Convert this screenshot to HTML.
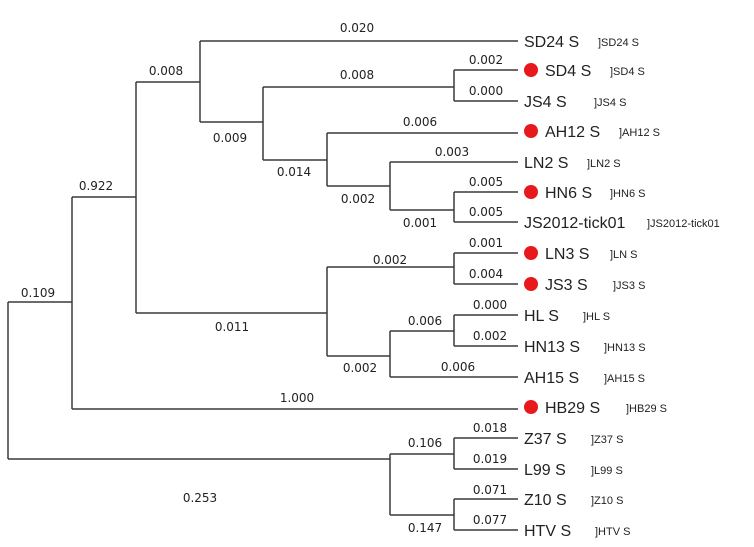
<!DOCTYPE html>
<html><head><meta charset="utf-8"><style>
html,body{margin:0;padding:0;background:#fff;}
svg{display:block;}
.b{font-family:"DejaVu Sans","Liberation Sans",sans-serif;font-size:12px;fill:#222;text-anchor:middle;}
.l{font-family:"Liberation Sans",sans-serif;font-size:16px;fill:#222;}
.s{font-family:"Liberation Sans",sans-serif;font-size:11px;fill:#222;}
</style></head><body>
<svg width="754" height="547" viewBox="0 0 754 547" xmlns="http://www.w3.org/2000/svg">
<g stroke="#3a3a3a" stroke-width="1.5" fill="none">
<path d="M8,302V459M8,302H72M8,459H390"/>
<path d="M72,197V409M72,197H136M72,409H518"/>
<path d="M136,82V313M136,82H200M136,313H327"/>
<path d="M200,41V122M200,41H518M200,122H263"/>
<path d="M263,87V160M263,87H454M263,160H327"/>
<path d="M454,70V101M454,70H518M454,101H518"/>
<path d="M327,133V186M327,133H518M327,186H390"/>
<path d="M390,162V210M390,162H518M390,210H454"/>
<path d="M454,192V222M454,192H518M454,222H518"/>
<path d="M327,267V356M327,267H454M327,356H390"/>
<path d="M454,253V284M454,253H518M454,284H518"/>
<path d="M390,331V377M390,331H454M390,377H518"/>
<path d="M454,315V346M454,315H518M454,346H518"/>
<path d="M390,454V515M390,454H454M390,515H454"/>
<path d="M454,438V469M454,438H518M454,469H518"/>
<path d="M454,499V530M454,499H518M454,530H518"/>
</g>
<g fill="#e8191c">
<circle cx="531" cy="70" r="7"/><circle cx="531" cy="131" r="7"/><circle cx="531" cy="192" r="7"/>
<circle cx="531" cy="253" r="7"/><circle cx="531" cy="284" r="7"/><circle cx="531" cy="407" r="7"/>
</g>
<g class="b">
<text x="357" y="32">0.020</text><text x="166" y="75">0.008</text><text x="230" y="142">0.009</text>
<text x="357" y="79">0.008</text><text x="294" y="176">0.014</text><text x="486" y="64">0.002</text>
<text x="486" y="95">0.000</text><text x="420" y="126">0.006</text><text x="452" y="156">0.003</text>
<text x="358" y="203">0.002</text><text x="486" y="186">0.005</text><text x="420" y="227">0.001</text>
<text x="486" y="216">0.005</text><text x="486" y="247">0.001</text><text x="390" y="264">0.002</text>
<text x="486" y="278">0.004</text><text x="96" y="190">0.922</text><text x="38" y="297">0.109</text>
<text x="232" y="331">0.011</text><text x="490" y="309">0.000</text><text x="425" y="325">0.006</text>
<text x="490" y="340">0.002</text><text x="360" y="372">0.002</text><text x="458" y="371">0.006</text>
<text x="297" y="402">1.000</text><text x="490" y="432">0.018</text><text x="425" y="447">0.106</text>
<text x="490" y="463">0.019</text><text x="200" y="502">0.253</text><text x="490" y="494">0.071</text>
<text x="490" y="524">0.077</text><text x="425" y="532">0.147</text>
</g>
<g class="l">
<text x="524" y="47">SD24 S</text><text x="545" y="76">SD4 S</text><text x="524" y="107">JS4 S</text>
<text x="545" y="137">AH12 S</text><text x="524" y="168">LN2 S</text><text x="545" y="198">HN6 S</text>
<text x="524" y="228">JS2012-tick01</text><text x="545" y="259">LN3 S</text><text x="545" y="290">JS3 S</text>
<text x="524" y="321">HL S</text><text x="524" y="352">HN13 S</text><text x="524" y="383">AH15 S</text>
<text x="545" y="413">HB29 S</text><text x="524" y="444">Z37 S</text><text x="524" y="475">L99 S</text>
<text x="524" y="505">Z10 S</text><text x="524" y="536">HTV S</text>
</g>
<g class="s">
<text x="598" y="46">]SD24 S</text><text x="610" y="75">]SD4 S</text><text x="594" y="106">]JS4 S</text>
<text x="619" y="136">]AH12 S</text><text x="587" y="167">]LN2 S</text><text x="610" y="197">]HN6 S</text>
<text x="647" y="227">]JS2012-tick01</text><text x="610" y="258">]LN S</text><text x="613" y="289">]JS3 S</text>
<text x="583" y="320">]HL S</text><text x="604" y="351">]HN13 S</text><text x="604" y="382">]AH15 S</text>
<text x="626" y="412">]HB29 S</text><text x="591" y="443">]Z37 S</text><text x="591" y="474">]L99 S</text>
<text x="591" y="504">]Z10 S</text><text x="595" y="535">]HTV S</text>
</g>
</svg>
</body></html>
